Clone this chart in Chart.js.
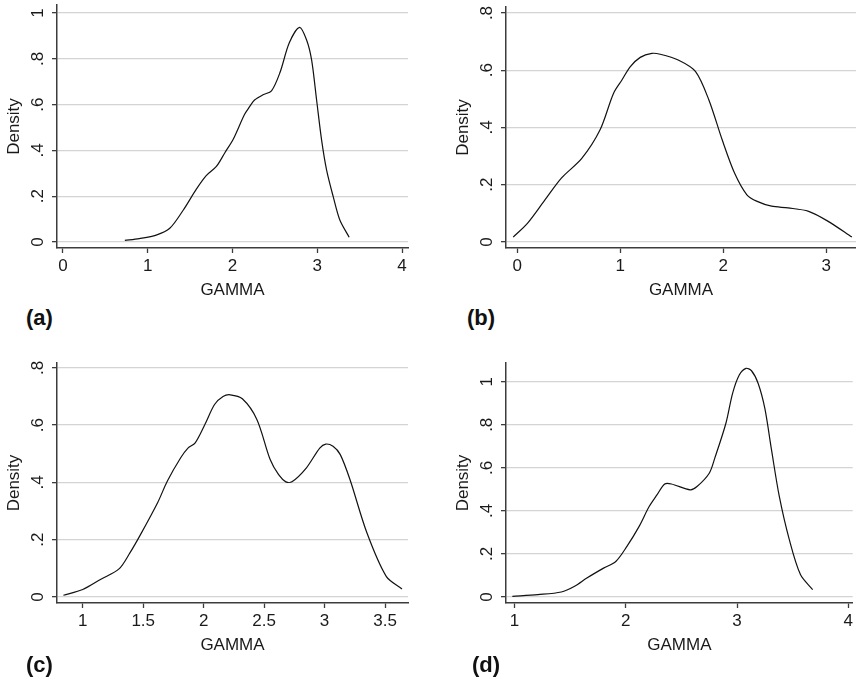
<!DOCTYPE html>
<html>
<head>
<meta charset="utf-8">
<script src="https://cdn.jsdelivr.net/npm/chart.js@4.4.1/dist/chart.umd.min.js"></script>
<style>
  html, body { margin: 0; padding: 0; background: #fff; }
  body { position: relative; width: 856px; height: 686px; overflow: hidden; font-family: 'Liberation Sans', Arial, sans-serif; }
  .panel { position: absolute; }
  .tag { position: absolute; font-weight: bold; font-size: 22px; color: #111; line-height: 1; }
</style>
</head>
<body>
<div class="panel" style="left:0;top:0;width:428px;height:305px"><canvas id="chartA"></canvas></div>
<div class="panel" style="left:449px;top:0;width:407px;height:305px"><canvas id="chartB"></canvas></div>
<div class="panel" style="left:0;top:340px;width:428px;height:320px"><canvas id="chartC"></canvas></div>
<div class="panel" style="left:449px;top:340px;width:407px;height:320px"><canvas id="chartD"></canvas></div>
<div class="tag" style="left:26px;top:307px">(a)</div>
<div class="tag" style="left:467px;top:307px">(b)</div>
<div class="tag" style="left:26px;top:654px">(c)</div>
<div class="tag" style="left:472px;top:654px">(d)</div>
<script>
// Kernel density curves
const gammaA = [0.73, 0.90, 1.10, 1.26, 1.42, 1.57, 1.69, 1.81, 1.91, 2.01, 2.14, 2.20, 2.26, 2.36, 2.46, 2.56, 2.67, 2.79, 2.874, 2.933, 2.992, 3.051, 3.11, 3.188, 3.266, 3.376];
const densityA = [0.007, 0.015, 0.03, 0.06, 0.14, 0.229, 0.29, 0.33, 0.39, 0.45, 0.556, 0.59, 0.62, 0.643, 0.66, 0.74, 0.87, 0.937, 0.882, 0.795, 0.62, 0.445, 0.314, 0.198, 0.096, 0.021];

const gammaB = [-0.04, 0.10, 0.27, 0.43, 0.626, 0.804, 0.934, 1.016, 1.096, 1.194, 1.307, 1.388, 1.563, 1.73, 1.86, 1.99, 2.11, 2.23, 2.33, 2.47, 2.63, 2.83, 3.02, 3.25];
const densityB = [0.017, 0.066, 0.148, 0.224, 0.292, 0.392, 0.519, 0.566, 0.612, 0.645, 0.659, 0.656, 0.636, 0.596, 0.497, 0.357, 0.241, 0.165, 0.142, 0.125, 0.119, 0.107, 0.072, 0.017];

const gammaC = [0.84, 1.0, 1.15, 1.30, 1.39, 1.474, 1.62, 1.70, 1.81, 1.87, 1.93, 2.01, 2.09, 2.16, 2.22, 2.32, 2.44, 2.55, 2.62, 2.68, 2.73, 2.85, 2.96, 3.01, 3.07, 3.13, 3.21, 3.35, 3.51, 3.64];
const densityC = [0.006, 0.026, 0.062, 0.098, 0.154, 0.215, 0.33, 0.405, 0.486, 0.52, 0.538, 0.602, 0.672, 0.70, 0.706, 0.692, 0.62, 0.48, 0.427, 0.402, 0.402, 0.451, 0.52, 0.534, 0.526, 0.497, 0.41, 0.224, 0.072, 0.028];

const gammaD = [0.98, 1.21, 1.42, 1.54, 1.65, 1.80, 1.91, 2.01, 2.12, 2.21, 2.28, 2.35, 2.41, 2.58, 2.64, 2.75, 2.80, 2.90, 2.96, 3.02, 3.08, 3.13, 3.19, 3.25, 3.31, 3.38, 3.47, 3.57, 3.68];
const densityD = [0.003, 0.011, 0.023, 0.05, 0.088, 0.134, 0.165, 0.235, 0.328, 0.42, 0.474, 0.525, 0.525, 0.498, 0.513, 0.575, 0.645, 0.807, 0.946, 1.031, 1.062, 1.051, 0.992, 0.876, 0.683, 0.467, 0.266, 0.104, 0.034];

// Axis ticks per panel
const xTicksA = [0, 1, 2, 3, 4];
const xTicksB = [0, 1, 2, 3];
const xTicksC = [1, 1.5, 2, 2.5, 3, 3.5];
const xTicksD = [1, 2, 3, 4];
const yTicksA = [0, 0.2, 0.4, 0.6, 0.8, 1];
const yTicksB = [0, 0.2, 0.4, 0.6, 0.8];
const yTicksC = [0, 0.2, 0.4, 0.6, 0.8];
const yTicksD = [0, 0.2, 0.4, 0.6, 0.8, 1];
const yTickText = { 0: '0', 0.2: '.2', 0.4: '.4', 0.6: '.6', 0.8: '.8', 1: '1' };

const AXIS = '#3c3c3c';
const GRID = '#d4d4d4';
const TEXT = '#1a1a1a';

Chart.defaults.font.family = "'Liberation Sans', Arial, sans-serif";
Chart.defaults.font.size = 17;
Chart.defaults.color = TEXT;

// Stata draws the y tick labels turned on their side
const sidewaysYTicks = {
    id: 'sidewaysYTicks',
    afterDraw(chart) {
        const s = chart.scales.y;
        const ctx = chart.ctx;
        ctx.save();
        ctx.fillStyle = TEXT;
        ctx.font = "17px 'Liberation Sans', Arial, sans-serif";
        ctx.textAlign = 'center';
        ctx.textBaseline = 'middle';
        s.ticks.forEach(t => {
            ctx.save();
            ctx.translate(s.right - 19, s.getPixelForValue(t.value));
            ctx.rotate(-Math.PI / 2);
            ctx.fillText(yTickText[t.value], 0, 0);
            ctx.restore();
        });
        ctx.restore();
    }
};

function densityPlot(id, xs, ys, xr, yr, xTicks, yTicks, pad) {
    const points = xs.map((x, i) => ({ x, y: ys[i] }));
    new Chart(document.getElementById(id), {
        type: 'line',
        data: { datasets: [{ data: points, borderColor: '#111', borderWidth: 1.2, pointRadius: 0, tension: 0.3, fill: false }] },
        options: {
            responsive: true, maintainAspectRatio: false, animation: false,
            layout: { padding: pad },
            plugins: { legend: { display: false }, tooltip: { enabled: false } },
            scales: {
                x: {
                    type: 'linear', min: xr[0], max: xr[1],
                    afterBuildTicks: s => { s.ticks = xTicks.map(v => ({ value: v })); },
                    afterFit: s => { s.height = 57; },
                    ticks: { padding: 3, color: TEXT, callback: v => String(v) },
                    grid: { drawOnChartArea: false, drawTicks: true, tickLength: 5, tickColor: AXIS, tickWidth: 1.3 },
                    border: { display: true, color: AXIS, width: 1.5 },
                    title: { display: true, text: 'GAMMA', padding: { top: 0, bottom: 4 }, color: TEXT }
                },
                y: {
                    type: 'linear', min: yr[0], max: yr[1],
                    afterBuildTicks: s => { s.ticks = yTicks.map(v => ({ value: v })); },
                    afterFit: s => { s.width = 57; },
                    ticks: { display: false },
                    grid: { color: GRID, lineWidth: 1.3, drawTicks: true, tickLength: 5, tickColor: AXIS, tickWidth: 1.3 },
                    border: { display: true, color: AXIS, width: 1.5 },
                    title: { display: true, text: 'Density', padding: { top: 4, bottom: 0 }, color: TEXT }
                }
            }
        },
        plugins: [sidewaysYTicks]
    });
}

densityPlot('chartA', gammaA, densityA, [-0.07, 4.07], [-0.026, 1.035], xTicksA, yTicksA, { left: 0, top: 5, right: 20, bottom: 0 });
densityPlot('chartB', gammaB, densityB, [-0.11, 3.29], [-0.021, 0.821], xTicksB, yTicksB, { left: 0, top: 7, right: 0, bottom: 0 });
densityPlot('chartC', gammaC, densityC, [0.787, 3.69], [-0.021, 0.817], xTicksC, yTicksC, { left: 0, top: 23, right: 20, bottom: 0 });
densityPlot('chartD', gammaD, densityD, [0.923, 4.04], [-0.028, 1.087], xTicksD, yTicksD, { left: 0, top: 23, right: 0, bottom: 0 });
</script>
</body>
</html>
